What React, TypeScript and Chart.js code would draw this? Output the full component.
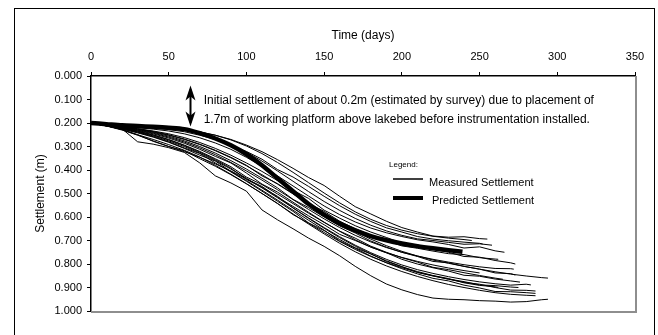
import React, { useEffect, useRef } from "react";
import { Chart, registerables } from "chart.js";

Chart.register(...registerables);

const FONT = "'Liberation Sans', Arial, Helvetica, sans-serif";

// ---- axes ----
const X_MIN = 0;
const X_MAX = 350;
const X_STEP = 50;
const Y_MIN = 0;
const Y_MAX = 1;
const Y_STEP = 0.1;
const X_TITLE = "Time (days)";
const Y_TITLE = "Settlement (m)";

const DAYS = [0, 10, 20, 30, 40, 50, 60, 70, 80, 90, 100, 110, 120, 130, 140, 150, 160, 170, 180, 190, 200, 210, 220, 230, 240, 250, 260, 270, 280, 290, 300];

// ---- predicted settlement ----
const PREDICTED = [0.200, 0.205, 0.210, 0.213, 0.216, 0.220, 0.226, 0.243, 0.266, 0.295, 0.333, 0.380, 0.435, 0.490, 0.545, 0.590, 0.628, 0.657, 0.681, 0.699, 0.713, 0.724, 0.733, 0.741];
const PREDICTED_END_DAY = 239;
const PREDICTED_END_VALUE = 0.748;

// ---- measured settlement (one array per settlement plate) ----
const M01 = [0.200, 0.205, 0.211, 0.215, 0.219, 0.223, 0.229, 0.238, 0.252, 0.270, 0.294, 0.322, 0.356, 0.393, 0.432, 0.466, 0.512, 0.556, 0.587, 0.618, 0.645, 0.664, 0.681, 0.686, 0.684, 0.692];
const M02 = [0.200, 0.207, 0.213, 0.218, 0.222, 0.228, 0.237, 0.252, 0.270, 0.293, 0.321, 0.354, 0.398, 0.430, 0.470, 0.512, 0.552, 0.588, 0.619, 0.646, 0.664, 0.683, 0.694, 0.701, 0.707, 0.712];
const M03 = [0.200, 0.208, 0.214, 0.220, 0.226, 0.234, 0.246, 0.263, 0.285, 0.312, 0.346, 0.384, 0.425, 0.468, 0.511, 0.553, 0.590, 0.621, 0.647, 0.667, 0.683, 0.697, 0.706, 0.717, 0.732, 0.727, 0.744];
const M04 = [0.200, 0.209, 0.216, 0.224, 0.234, 0.246, 0.262, 0.283, 0.308, 0.337, 0.370, 0.406, 0.445, 0.487, 0.521, 0.571, 0.605, 0.637, 0.664, 0.687, 0.711, 0.719, 0.737, 0.750, 0.768, 0.771, 0.785, 0.795];
const M05 = [0.200, 0.210, 0.218, 0.228, 0.240, 0.256, 0.276, 0.300, 0.328, 0.360, 0.396, 0.435, 0.476, 0.525, 0.560, 0.600, 0.638, 0.668, 0.702, 0.728, 0.750, 0.768, 0.789, 0.795, 0.810, 0.822, 0.838, 0.841];
const M06 = [0.200, 0.210, 0.220, 0.232, 0.246, 0.264, 0.286, 0.312, 0.342, 0.370, 0.413, 0.460, 0.494, 0.537, 0.580, 0.622, 0.661, 0.697, 0.728, 0.752, 0.780, 0.800, 0.816, 0.830, 0.848, 0.852, 0.864, 0.872];
const M07 = [0.200, 0.209, 0.217, 0.226, 0.238, 0.252, 0.270, 0.292, 0.318, 0.348, 0.382, 0.420, 0.460, 0.502, 0.545, 0.587, 0.626, 0.662, 0.694, 0.722, 0.746, 0.766, 0.783, 0.797, 0.810, 0.822, 0.833, 0.843, 0.851, 0.858];
const M08 = [0.200, 0.211, 0.222, 0.236, 0.252, 0.272, 0.296, 0.324, 0.356, 0.392, 0.440, 0.474, 0.512, 0.562, 0.606, 0.648, 0.688, 0.724, 0.757, 0.786, 0.811, 0.836, 0.850, 0.865, 0.878, 0.886, 0.900, 0.911, 0.912];
const M09 = [0.200, 0.212, 0.226, 0.242, 0.260, 0.282, 0.308, 0.337, 0.362, 0.406, 0.445, 0.486, 0.528, 0.571, 0.614, 0.656, 0.702, 0.733, 0.766, 0.795, 0.820, 0.842, 0.861, 0.872, 0.890, 0.902, 0.917, 0.918, 0.922];
const M10 = [0.200, 0.212, 0.228, 0.250, 0.270, 0.292, 0.316, 0.345, 0.380, 0.418, 0.458, 0.500, 0.543, 0.587, 0.630, 0.672, 0.712, 0.748, 0.780, 0.808, 0.832, 0.853, 0.871, 0.887, 0.900, 0.912, 0.922, 0.929, 0.933];
const M11 = [0.200, 0.212, 0.225, 0.280, 0.290, 0.305, 0.325, 0.370, 0.425, 0.455, 0.490, 0.570, 0.612, 0.650, 0.690, 0.725, 0.765, 0.810, 0.850, 0.885, 0.910, 0.930, 0.945, 0.950, 0.952, 0.956, 0.958, 0.962, 0.960, 0.952];
const M12 = [0.200, 0.206, 0.211, 0.215, 0.219, 0.224, 0.232, 0.246, 0.266, 0.292, 0.324, 0.362, 0.404, 0.448, 0.492, 0.534, 0.572, 0.606, 0.635, 0.659, 0.678, 0.693, 0.700, 0.708, 0.716, 0.714];
const M13 = [0.200, 0.209, 0.217, 0.225, 0.236, 0.250, 0.268, 0.290, 0.316, 0.346, 0.380, 0.425, 0.458, 0.500, 0.542, 0.576, 0.618, 0.650, 0.677, 0.700, 0.723, 0.733, 0.745, 0.756, 0.760, 0.773, 0.779];
const M14 = [0.200, 0.210, 0.219, 0.230, 0.243, 0.260, 0.281, 0.306, 0.335, 0.368, 0.404, 0.443, 0.484, 0.526, 0.568, 0.608, 0.645, 0.678, 0.706, 0.730, 0.750, 0.766, 0.780, 0.792, 0.803, 0.812, 0.819, 0.820];
const M15 = [0.200, 0.211, 0.223, 0.238, 0.255, 0.276, 0.300, 0.328, 0.360, 0.396, 0.435, 0.476, 0.518, 0.561, 0.604, 0.645, 0.684, 0.720, 0.752, 0.780, 0.804, 0.824, 0.840, 0.854, 0.866, 0.876, 0.884, 0.890, 0.886];
const M16 = [0.200, 0.212, 0.225, 0.240, 0.258, 0.280, 0.306, 0.330, 0.370, 0.408, 0.448, 0.490, 0.533, 0.576, 0.625, 0.658, 0.696, 0.731, 0.757, 0.789, 0.812, 0.832, 0.849, 0.862, 0.880, 0.891, 0.897];
const M17 = [0.200, 0.210, 0.221, 0.234, 0.250, 0.270, 0.294, 0.321, 0.352, 0.386, 0.430, 0.462, 0.502, 0.543, 0.584, 0.623, 0.660, 0.690, 0.724, 0.750, 0.773, 0.792, 0.814, 0.824, 0.837, 0.849, 0.860];
const M18 = [0.200, 0.206, 0.210, 0.214, 0.218, 0.222, 0.228, 0.238, 0.252, 0.272, 0.298, 0.330, 0.368, 0.410, 0.454, 0.498, 0.540, 0.578, 0.610, 0.636, 0.656, 0.671, 0.682, 0.690, 0.696];
const M19 = [0.200, 0.212, 0.228, 0.250, 0.278, 0.300, 0.322, 0.346, 0.374, 0.404, 0.438, 0.470, 0.515, 0.555, 0.595, 0.633, 0.674, 0.700, 0.728, 0.752, 0.772, 0.789, 0.804, 0.817, 0.828, 0.838];
const M20 = [0.200, 0.213, 0.230, 0.252, 0.276, 0.300, 0.318, 0.352, 0.384, 0.420, 0.459, 0.500, 0.542, 0.590, 0.626, 0.666, 0.704, 0.738, 0.768, 0.794, 0.816, 0.835, 0.851, 0.864, 0.875, 0.889, 0.892, 0.898];

const MEASURED = [M01, M02, M03, M04, M05, M06, M07, M08, M09, M10, M11, M12, M13, M14, M15, M16, M17, M18, M19, M20];
const MEASURED_END_DAYS = [255, 252, 266, 273, 273, 276, 294, 286, 286, 286, 294, 258, 262, 272, 283, 262, 265, 245, 250, 275];
const MEASURED_END_VALUES = [0.694, 0.715, 0.750, 0.800, 0.847, 0.877, 0.860, 0.915, 0.925, 0.935, 0.950, 0.720, 0.780, 0.822, 0.889, 0.900, 0.865, 0.700, 0.838, 0.900];

// ---- annotation ----
const NOTE_LINES = [
  "Initial settlement of about 0.2m (estimated by survey) due to placement of",
  "1.7m of working platform above lakebed before instrumentation installed.",
];
const NOTE_DAY = 72.5;
const NOTE_Y = [0.103, 0.188];
const ARROW_DAY = 63.5;
const ARROW_TOP = 0.04;
const ARROW_BOTTOM = 0.215;

const LEGEND_TITLE = "Legend:";
const LEGEND_LABELS = ["Measured Settlement", "Predicted Settlement"];

function toPoints(vals: number[], endDay: number, endVal: number) {
  const pts = vals.map((v, i) => ({ x: DAYS[i], y: v }));
  if (endDay > DAYS[vals.length - 1]) pts.push({ x: endDay, y: endVal });
  return pts;
}

const decorPlugin = {
  id: "decor",
  beforeDraw(chart: any) {
    const ctx = chart.ctx;
    ctx.save();
    ctx.fillStyle = "#ffffff";
    ctx.fillRect(0, 0, chart.width, chart.height);
    ctx.restore();
  },
  afterDraw(chart: any) {
    const ctx = chart.ctx;
    const { left, top, right, bottom } = chart.chartArea;
    const xs = chart.scales.x;
    const ys = chart.scales.y;
    ctx.save();
    // outer frame
    ctx.strokeStyle = "#000";
    ctx.lineWidth = 1;
    ctx.strokeRect(14.5, 8.5, 640, 340);
    // plot area shadow edges (right & bottom)
    ctx.strokeStyle = "#8e8e8e";
    ctx.lineWidth = 2;
    ctx.beginPath();
    ctx.moveTo(right + 1, top);
    ctx.lineTo(right + 1, bottom + 1);
    ctx.lineTo(left, bottom + 1);
    ctx.stroke();

    // double-headed arrow
    const ax = Math.round(xs.getPixelForValue(ARROW_DAY)) + 0.5;
    const ay1 = ys.getPixelForValue(ARROW_TOP);
    const ay2 = ys.getPixelForValue(ARROW_BOTTOM);
    ctx.fillStyle = "#000";
    ctx.strokeStyle = "#000";
    ctx.lineWidth = 2;
    ctx.beginPath();
    ctx.moveTo(ax, ay1 + 4);
    ctx.lineTo(ax, ay2 - 4);
    ctx.stroke();
    const hw = 5;
    const hl = 15;
    ctx.beginPath();
    ctx.moveTo(ax, ay1);
    ctx.lineTo(ax + hw, ay1 + hl);
    ctx.lineTo(ax, ay1 + hl - 4);
    ctx.lineTo(ax - hw, ay1 + hl);
    ctx.closePath();
    ctx.fill();
    ctx.beginPath();
    ctx.moveTo(ax, ay2);
    ctx.lineTo(ax + hw, ay2 - hl);
    ctx.lineTo(ax, ay2 - hl + 4);
    ctx.lineTo(ax - hw, ay2 - hl);
    ctx.closePath();
    ctx.fill();

    // annotation text
    ctx.font = `12px ${FONT}`;
    ctx.textAlign = "left";
    ctx.textBaseline = "middle";
    ctx.fillStyle = "#000";
    NOTE_LINES.forEach((t, i) => {
      ctx.fillText(t, xs.getPixelForValue(NOTE_DAY), ys.getPixelForValue(NOTE_Y[i]));
    });

    // legend box
    const lx = left + 302;
    const ly = top + 89;
    ctx.font = `8px ${FONT}`;
    ctx.fillText(LEGEND_TITLE, lx - 4, ly);
    ctx.lineWidth = 1.5;
    ctx.beginPath();
    ctx.moveTo(lx, ly + 14);
    ctx.lineTo(lx + 30, ly + 14);
    ctx.stroke();
    ctx.lineWidth = 4;
    ctx.beginPath();
    ctx.moveTo(lx, ly + 33);
    ctx.lineTo(lx + 30, ly + 33);
    ctx.stroke();
    ctx.font = `11px ${FONT}`;
    ctx.fillText(LEGEND_LABELS[0], lx + 36, ly + 18);
    ctx.fillText(LEGEND_LABELS[1], lx + 39, ly + 36);
    ctx.restore();
  },
};

export default function App() {
  const ref = useRef<HTMLCanvasElement | null>(null);
  useEffect(() => {
    if (!ref.current) return;
    const datasets: any[] = MEASURED.map((vals, k) => ({
      label: "Measured Settlement",
      data: toPoints(vals, MEASURED_END_DAYS[k], MEASURED_END_VALUES[k]),
      borderColor: "#000",
      borderWidth: 1,
      pointRadius: 0,
      tension: 0,
      fill: false,
    }));
    datasets.push({
      label: "Predicted Settlement",
      data: toPoints(PREDICTED, PREDICTED_END_DAY, PREDICTED_END_VALUE),
      borderColor: "#000",
      borderWidth: 4.5,
      pointRadius: 0,
      tension: 0.3,
      fill: false,
    });
    const chart = new Chart(ref.current, {
      type: "line",
      data: { datasets },
      options: {
        animation: false,
        responsive: false,
        devicePixelRatio: 1,
        layout: { padding: { left: 0, top: 0, right: 23, bottom: 24 } },
        plugins: { legend: { display: false }, tooltip: { enabled: false } },
        scales: {
          x: {
            type: "linear",
            position: "top",
            min: X_MIN,
            max: X_MAX,
            afterFit: (s: any) => { s.height = 76; },
            ticks: { stepSize: X_STEP, color: "#000", padding: 8, font: { family: FONT, size: 11 } },
            grid: { drawOnChartArea: false, drawTicks: true, tickLength: 4, color: "#000", lineWidth: 1 },
            border: { color: "#000", width: 1.5 },
            title: { display: true, text: X_TITLE, color: "#000", font: { family: FONT, size: 12 }, padding: { top: 28, bottom: 0 } },
          },
          y: {
            type: "linear",
            reverse: true,
            min: Y_MIN,
            max: Y_MAX,
            afterFit: (s: any) => { s.width = 91; },
            ticks: { stepSize: Y_STEP, color: "#000", padding: 5, font: { family: FONT, size: 11 }, callback: (v: any) => Number(v).toFixed(3) },
            grid: { drawOnChartArea: false, drawTicks: true, tickLength: 4, color: "#000", lineWidth: 1 },
            border: { color: "#000", width: 1.5 },
            title: { display: true, text: Y_TITLE, color: "#000", font: { family: FONT, size: 12 }, padding: { top: 33, bottom: 0 } },
          },
        },
      },
      plugins: [decorPlugin],
    });
    return () => chart.destroy();
  }, []);
  return (
    <div style={{ position: "absolute", left: 0, top: 0, width: 658, height: 335, background: "#fff" }}>
      <canvas ref={ref} width={658} height={335} style={{ display: "block" }} />
    </div>
  );
}
